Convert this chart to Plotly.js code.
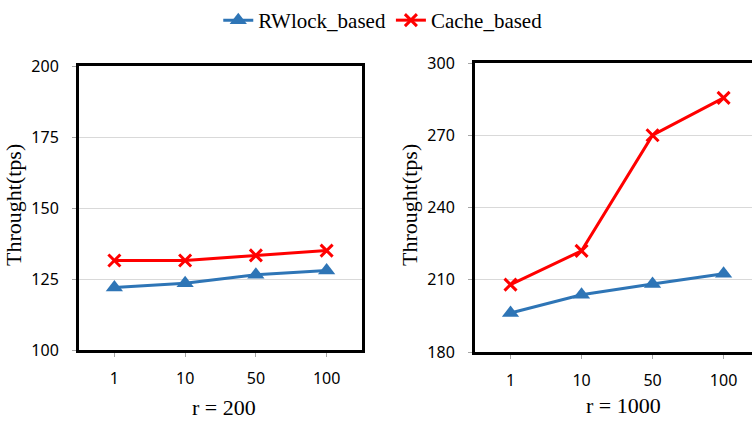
<!DOCTYPE html>
<html>
<head>
<meta charset="utf-8">
<script src="https://cdn.plot.ly/plotly-3.0.1.min.js"></script>
<style>html,body{margin:0;padding:0;background:#fff;}#chart{width:752px;height:421px;}</style>
</head>
<body>
<div id="chart"></div>
<script>
const categories = ["1", "10", "50", "100"];
const rwlock200 = [122, 123.5, 126.5, 128];
const cache200 = [131.5, 131.5, 133.3, 135];
const rwlock1000 = [196.2, 203.8, 208.2, 212.5];
const cache1000 = [208, 222, 270, 285.5];
const seriesNames = ["RWlock_based", "Cache_based"];
const panelTitles = ["r = 200", "r = 1000"];
const yTitle = "Throught(tps)";
const yTicks200 = [100, 125, 150, 175, 200];
const yTicks1000 = [180, 210, 240, 270, 300];

const blue = "#2E75B6", red = "#FF0000";
const serif = "Liberation Serif, Times New Roman, serif";
const sans = "'Noto Sans', sans-serif";

function rw(x, y, xa, ya, show) {
  return {x: x, y: y, xaxis: xa, yaxis: ya, type: "scatter", mode: "lines+markers",
    name: seriesNames[0], showlegend: show, legendgroup: "rw",
    line: {color: blue, width: 3},
    marker: {symbol: "triangle-up", size: 15, color: blue}};
}
function ca(x, y, xa, ya, show) {
  return {x: x, y: y, xaxis: xa, yaxis: ya, type: "scatter", mode: "lines+markers",
    name: seriesNames[1], showlegend: show, legendgroup: "ca",
    line: {color: red, width: 3},
    marker: {symbol: "x-thin", size: 12, color: red, line: {color: red, width: 3}}};
}
const data = [
  rw(categories, rwlock200, "x", "y", true),
  ca(categories, cache200, "x", "y", true),
  rw(categories, rwlock1000, "x2", "y2", false),
  ca(categories, cache1000, "x2", "y2", false)
];

function xax(domain, anchor, range) {
  return {domain: domain, anchor: anchor, type: "category", range: range,
    showline: true, linecolor: "#000", linewidth: 3, mirror: true,
    ticks: "outside", ticklen: 4, tickcolor: "#a6a6a6", tickwidth: 1,
    ticklabelstandoff: 8,
    showgrid: false, zeroline: false,
    tickfont: {family: sans, size: 16, color: "#000"}};
}
function yax(domain, anchor, range, ticks, mirror) {
  return {domain: domain, anchor: anchor, range: range, tickvals: ticks,
    showline: true, linecolor: "#000", linewidth: 3, mirror: mirror,
    ticks: "outside", ticklen: 4, tickcolor: "#a6a6a6", tickwidth: 1,
    ticklabelstandoff: 10,
    showgrid: true, gridcolor: "#d9d9d9", gridwidth: 1, zeroline: false,
    tickfont: {family: sans, size: 16, color: "#000"}};
}

const H = 421, W = 752;
function ann(text, x, y, angle) {
  return {text: text, xref: "paper", yref: "paper", x: x / W, y: (H - y) / H,
    xanchor: "center", yanchor: "middle", textangle: angle, showarrow: false,
    font: {family: serif, size: 22, color: "#000"}};
}
const layout = {
  width: W, height: H,
  margin: {l: 0, r: 0, t: 0, b: 0},
  paper_bgcolor: "#fff", plot_bgcolor: "#fff",
  showlegend: true,
  legend: {orientation: "h", x: 0.509, xanchor: "center", y: 1.0, yanchor: "top",
    font: {family: serif, size: 21, color: "#000"}, bgcolor: "rgba(0,0,0,0)"},
  xaxis: xax([79 / W, 362 / W], "y", [-0.5, 3.5]),
  yaxis: yax([(H - 350) / H, (H - 66) / H], "x", [100, 200], yTicks200, true),
  xaxis2: xax([475 / W, 1], "y2", [-0.5, 3.4]),
  yaxis2: yax([(H - 352) / H, (H - 63) / H], "x2", [180, 300], yTicks1000, false),
  annotations: [
    ann(yTitle, 14, 205, -90),
    ann(yTitle, 410, 205, -90),
    ann(panelTitles[0], 224, 407, 0),
    ann(panelTitles[1], 623, 405, 0)
  ]
};
Plotly.newPlot("chart", data, layout, {staticPlot: true, displayModeBar: false});
</script>
</body>
</html>
